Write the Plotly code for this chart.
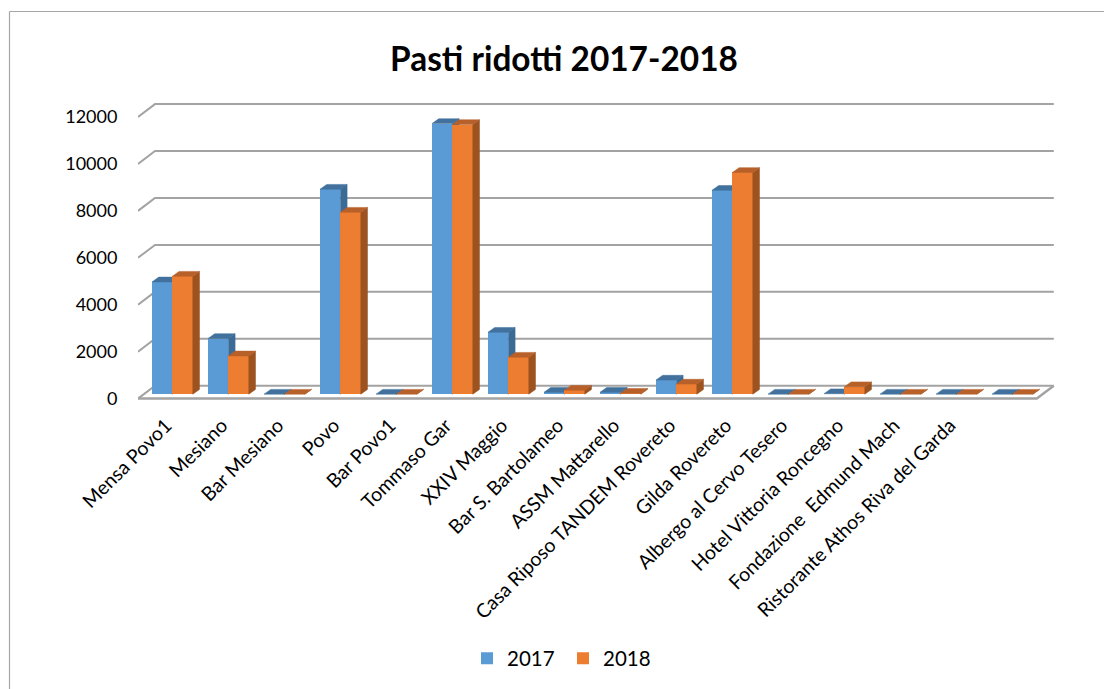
import plotly.graph_objects as go

TITLE = "Pasti ridotti 2017-2018"
categories = ["Mensa Povo1", "Mesiano", "Bar Mesiano", "Povo", "Bar Povo1", "Tommaso Gar",
              "XXIV Maggio", "Bar S. Bartolameo", "ASSM Mattarello", "Casa Riposo TANDEM Rovereto",
              "Gilda Rovereto", "Albergo al Cervo Tesero", "Hotel Vittoria Roncegno",
              "Fondazione  Edmund Mach", "Ristorante Athos Riva del Garda", ""]
values_2017 = [4785, 2373, 0, 8735, 0, 11534, 2640, 80, 80, 600, 8690, 0, 20, 0, 0, 0]
values_2018 = [5028, 1632, 0, 7755, 0, 11491, 1576, 170, 40, 430, 9450, 0, 320, 0, 0, 0]
y_ticks = [0, 2000, 4000, 6000, 8000, 10000, 12000]
y_tick_labels = ["0", "2000", "4000", "6000", "8000", "10000", "12000"]

W, H = 1104, 689
FONT = "Lato"
PX_X = 56.0            # pixels per category
PX_Y = 281.6 / 12000   # pixels per value unit
LEFT, ZERO_Y, TOP12K = 138, 398.6, 117
X_RANGE = [0, 16.5]
Y_RANGE = [-250, 12800]
x_dom = [LEFT / W, (LEFT + X_RANGE[1] * PX_X) / W]
y_dom = [1 - (ZERO_Y - Y_RANGE[0] * PX_Y) / H, 1 - (ZERO_Y - Y_RANGE[1] * PX_Y) / H]

BAR_W = 20.4 / PX_X
BAR_X0 = 14 / PX_X
BAR_BASE = 4.4 / PX_Y
DX = 6.7 / PX_X
DY = 4.8 / PX_Y
WALL_DX = 17 / PX_X
WALL_DY = 12.9 / PX_Y
FLOOR_END = 16.05
GRID = "#a3a3a3"


def faces(values, col):
    """Side and top faces of the extruded bars, from the values."""
    sx, sy, tx, ty = [], [], [], []
    for i, v in enumerate(values):
        x0 = i + BAR_X0 + col * BAR_W
        x1 = x0 + BAR_W
        top = BAR_BASE + v
        sx += [x1, x1 + DX, x1 + DX, x1, x1, None]
        sy += [BAR_BASE, BAR_BASE + DY, top + DY, top, BAR_BASE, None]
        tx += [x0, x1, x1 + DX, x0 + DX, x0, None]
        ty += [top, top, top + DY, top + DY, top, None]
    return sx, sy, tx, ty


fig = go.Figure()

# grid lines: left wall diagonal + back wall
gx, gy = [], []
for t in y_ticks:
    gx += [0, WALL_DX, FLOOR_END + WALL_DX, None]
    gy += [t, t + WALL_DY, t + WALL_DY, None]
fig.add_trace(go.Scatter(x=gx, y=gy, mode="lines", line=dict(color=GRID, width=2),
                         showlegend=False, hoverinfo="skip", yaxis="y"))
# floor front edge and right edge
fig.add_trace(go.Scatter(x=[0, FLOOR_END, FLOOR_END + WALL_DX], y=[0, 0, WALL_DY], mode="lines",
                         line=dict(color=GRID, width=2.5), showlegend=False,
                         hoverinfo="skip", yaxis="y"))

series = [("2017", values_2017, 0, "#5b9bd5", "#3a6b96", "#41719c", "y2"),
          ("2018", values_2018, 1, "#ed7d31", "#9c5320", "#b7602a", "y3")]
for name, vals, col, front, side, top, ya in series:
    fig.add_trace(go.Bar(x=[i + BAR_X0 + (col + 0.5) * BAR_W for i in range(len(vals))],
                         y=vals, base=BAR_BASE, width=BAR_W, name=name, yaxis=ya,
                         marker=dict(color=front, line=dict(width=0)), hoverinfo="skip"))
    sx, sy, tx, ty = faces(vals, col)
    fig.add_trace(go.Scatter(x=sx, y=sy, mode="lines", fill="toself", fillcolor=side,
                             line=dict(color=side, width=0.5), showlegend=False,
                             hoverinfo="skip", yaxis=ya))
    fig.add_trace(go.Scatter(x=tx, y=ty, mode="lines", fill="toself", fillcolor=top,
                             line=dict(color=top, width=0.5), showlegend=False,
                             hoverinfo="skip", yaxis=ya))

hidden = dict(range=Y_RANGE, domain=y_dom, visible=False, overlaying="y", fixedrange=True)
fig.update_layout(
    width=W, height=H, margin=dict(l=0, r=0, t=0, b=0, autoexpand=False), autosize=False,
    paper_bgcolor="white", plot_bgcolor="rgba(0,0,0,0)",
    font=dict(family=FONT, color="#000000"),
    barmode="overlay", bargap=0,
    title=dict(text="<b>%s</b>" % TITLE, x=564 / W, xanchor="center", y=1 - 59 / H,
               yanchor="middle", font=dict(family=FONT, size=33.4, color="#000000")),
    xaxis=dict(domain=x_dom, range=X_RANGE, tickmode="array",
               tickvals=[i + 0.5 for i in range(15)], ticktext=categories[:15],
               tickangle=-45, tickfont=dict(size=19.5), showgrid=False, zeroline=False,
               showline=False, ticks="outside", ticklen=1, tickcolor="rgba(0,0,0,0)",
               fixedrange=True, anchor="y", automargin=False),
    yaxis=dict(domain=y_dom, range=Y_RANGE, tickmode="array", tickvals=y_ticks,
               ticktext=y_tick_labels, tickfont=dict(size=18), showgrid=False, zeroline=False,
               showline=False, ticks="outside", ticklen=16, tickcolor="rgba(0,0,0,0)",
               fixedrange=True, anchor="x", automargin=False),
    yaxis2=hidden, yaxis3=hidden,
    legend=dict(orientation="h", x=467 / W, xanchor="left", y=1 - 658.5 / H, yanchor="middle",
                font=dict(size=20.5), itemclick=False, itemdoubleclick=False,
                bgcolor="rgba(0,0,0,0)", traceorder="normal",
                entrywidth=51, entrywidthmode="pixels"),
    shapes=[
        dict(type="line", xref="paper", yref="paper", x0=9.5 / W, x1=1, y0=1 - 11.5 / H, y1=1 - 11.5 / H,
             line=dict(color="#a6a6a6", width=1.2)),
        dict(type="line", xref="paper", yref="paper", x0=9.5 / W, x1=9.5 / W, y0=0, y1=1 - 11.5 / H,
             line=dict(color="#a6a6a6", width=1.2)),
    ],
)

fig.write_html("out.html", config={"displayModeBar": False, "staticPlot": True},
               post_script="document.body.style.margin='0';document.documentElement.style.overflow='hidden';")
